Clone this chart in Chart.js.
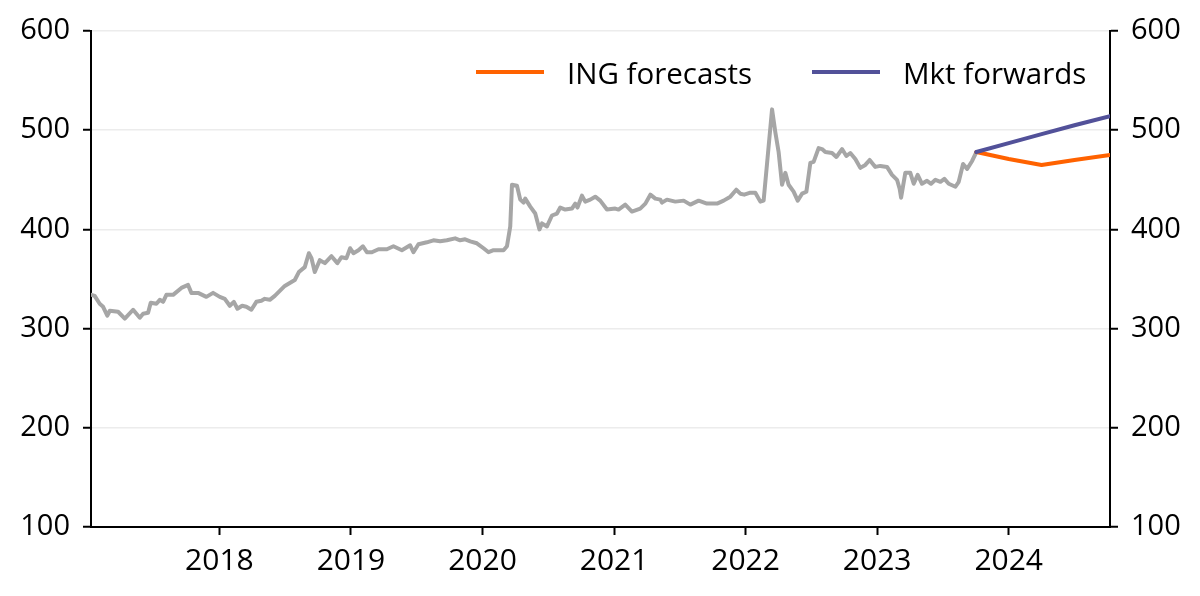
<!DOCTYPE html>
<html>
<head>
<meta charset="utf-8">
<script src="https://cdn.jsdelivr.net/npm/chart.js@4"></script>
<style>
  body { margin: 0; background: #fff; }
  #wrap { width: 1200px; height: 596px; }
</style>
</head>
<body>
<div id="wrap"><canvas id="grafico"></canvas></div>
<script>
// Serie histórica (año decimal, valor)
const fechas = [
  2017.027, 2017.052, 2017.090, 2017.116, 2017.148, 2017.167, 2017.230, 2017.281, 2017.344, 2017.395,
  2017.420, 2017.458, 2017.478, 2017.521, 2017.547, 2017.572, 2017.597, 2017.648, 2017.711, 2017.762,
  2017.787, 2017.838, 2017.901, 2017.952, 2018.003, 2018.041, 2018.079, 2018.110, 2018.137, 2018.173,
  2018.205, 2018.243, 2018.281, 2018.319, 2018.345, 2018.383, 2018.421, 2018.459, 2018.497, 2018.535,
  2018.573, 2018.604, 2018.649, 2018.680, 2018.700, 2018.725, 2018.763, 2018.802, 2018.852, 2018.897,
  2018.928, 2018.966, 2018.994, 2019.019, 2019.057, 2019.091, 2019.121, 2019.159, 2019.209, 2019.273,
  2019.323, 2019.387, 2019.450, 2019.475, 2019.513, 2019.577, 2019.627, 2019.678, 2019.729, 2019.792,
  2019.830, 2019.868, 2019.907, 2019.957, 2020.008, 2020.046, 2020.084, 2020.122, 2020.160, 2020.186,
  2020.211, 2020.224, 2020.262, 2020.287, 2020.312, 2020.325, 2020.363, 2020.401, 2020.433, 2020.452,
  2020.490, 2020.528, 2020.566, 2020.591, 2020.629, 2020.680, 2020.705, 2020.722, 2020.756, 2020.781,
  2020.819, 2020.857, 2020.895, 2020.946, 2021.009, 2021.034, 2021.085, 2021.136, 2021.199, 2021.238,
  2021.276, 2021.314, 2021.352, 2021.364, 2021.402, 2021.466, 2021.529, 2021.580, 2021.643, 2021.706,
  2021.783, 2021.833, 2021.884, 2021.929, 2021.960, 2021.990, 2022.036, 2022.074, 2022.112, 2022.137,
  2022.201, 2022.226, 2022.251, 2022.277, 2022.302, 2022.327, 2022.365, 2022.396, 2022.429, 2022.462,
  2022.492, 2022.517, 2022.555, 2022.581, 2022.606, 2022.657, 2022.690, 2022.733, 2022.766, 2022.796,
  2022.834, 2022.872, 2022.910, 2022.943, 2022.986, 2023.024, 2023.075, 2023.113, 2023.151, 2023.171,
  2023.182, 2023.214, 2023.252, 2023.278, 2023.308, 2023.341, 2023.379, 2023.410, 2023.443, 2023.481,
  2023.511, 2023.544, 2023.595, 2023.620, 2023.653, 2023.684, 2023.722, 2023.754
];
const valores = [
  334, 333, 325, 322, 313, 318, 317, 310, 319, 311,
  315, 316, 326, 325, 329, 327, 334, 334, 341, 344,
  336, 336, 332, 336, 332, 330, 323, 327, 320, 323,
  322, 319, 327, 328, 330, 329, 333, 338, 343, 346,
  349, 357, 362, 376, 371, 357, 369, 366, 373, 366,
  372, 371, 381, 376, 379, 383, 377, 377, 380, 380,
  383, 379, 384, 377, 385, 387, 389, 388, 389, 391,
  389, 390, 388, 386, 381, 377, 379, 379, 379, 383,
  403, 445, 444, 430, 427, 431, 423, 416, 400, 406,
  403, 414, 416, 422, 420, 421, 426, 422, 434, 428,
  430, 433, 429, 420, 421, 420, 425, 418, 421, 426,
  435, 431, 430, 427, 430, 428, 429, 425, 429, 426,
  426, 429, 433, 440, 436, 435, 437, 437, 428, 429,
  521, 498, 478, 445, 457, 445, 438, 429, 436, 438,
  467, 468, 482, 481, 478, 477, 473, 481, 474, 477,
  471, 462, 465, 470, 463, 464, 463, 455, 450, 441,
  432, 457, 457, 446, 455, 446, 449, 446, 450, 448,
  451, 446, 443, 448, 466, 461, 469, 478
];

// Previsiones trimestrales
const fechasPrevision = [2023.754, 2024.0, 2024.25, 2024.5, 2024.77];
const previsionING = [478, 471, 465, 470, 475];
const forwardsMercado = [478, 487, 496, 505, 514];

const etiquetasAnios = [2018, 2019, 2020, 2021, 2022, 2023, 2024];
const nombresSeries = ['ING forecasts', 'Mkt forwards'];

const colores = ['#a6a6a6', '#ff6200', '#525199'];
const fuente = "'Open Sans', sans-serif";

const aPuntos = (xs, ys) => xs.map((x, i) => ({ x: x, y: ys[i] }));

// Leyenda dibujada dentro del área del gráfico
const leyenda = {
  id: 'leyenda',
  afterDatasetsDraw(chart) {
    const ctx = chart.ctx;
    const items = [
      { x: 476, texto: nombresSeries[0], color: colores[1] },
      { x: 812, texto: nombresSeries[1], color: colores[2] }
    ];
    ctx.save();
    ctx.font = '29.5px ' + fuente;
    ctx.fillStyle = '#000';
    ctx.textBaseline = 'alphabetic';
    items.forEach(it => {
      ctx.strokeStyle = it.color;
      ctx.lineWidth = 4;
      ctx.beginPath();
      ctx.moveTo(it.x, 72);
      ctx.lineTo(it.x + 68, 72);
      ctx.stroke();
      ctx.fillText(it.texto, it.x + 91, 84);
    });
    ctx.restore();
  }
};

const ejeY = (pos, dibujarRejilla) => ({
  type: 'linear',
  position: pos,
  min: 100,
  max: 600,
  afterFit: s => { s.width = pos === 'left' ? 91 : 90; },
  ticks: { stepSize: 100, color: '#000', padding: 13, font: { family: fuente, size: 29 } },
  grid: { drawOnChartArea: dibujarRejilla, color: '#ececec', lineWidth: 1.5, tickColor: '#000', tickLength: 8, tickWidth: 2 },
  border: { color: '#000', width: 2 }
});

const linea = (etiqueta, datos, color) => ({
  label: etiqueta,
  data: datos,
  borderColor: color,
  borderWidth: 4,
  borderJoinStyle: 'round',
  borderCapStyle: 'round',
  pointRadius: 0,
  xAxisID: 'x',
  yAxisID: 'y'
});

new Chart(document.getElementById('grafico'), {
  type: 'line',
  data: {
    datasets: [
      linea(nombresSeries[1], aPuntos(fechasPrevision, forwardsMercado), colores[2]),
      linea(nombresSeries[0], aPuntos(fechasPrevision, previsionING), colores[1]),
      linea('Histórico', aPuntos(fechas, valores), colores[0])
    ]
  },
  options: {
    responsive: true,
    maintainAspectRatio: false,
    animation: false,
    layout: { padding: { top: 31, left: 0, right: 0, bottom: 0 } },
    scales: {
      x: {
        type: 'linear',
        min: 2017.024,
        max: 2024.77,
        afterBuildTicks: s => { s.ticks = etiquetasAnios.map(v => ({ value: v })); },
        afterFit: s => { s.height = 69; },
        ticks: {
          color: '#000',
          padding: 8,
          maxRotation: 0,
          autoSkip: false,
          font: { family: fuente, size: 30 },
          callback: v => String(v)
        },
        grid: { drawOnChartArea: false, tickColor: '#000', tickLength: 8, tickWidth: 2 },
        border: { color: '#000', width: 2 }
      },
      y: ejeY('left', true),
      y2: ejeY('right', false)
    },
    plugins: {
      legend: { display: false },
      tooltip: { enabled: false }
    }
  },
  plugins: [leyenda]
});
</script>
</body>
</html>
